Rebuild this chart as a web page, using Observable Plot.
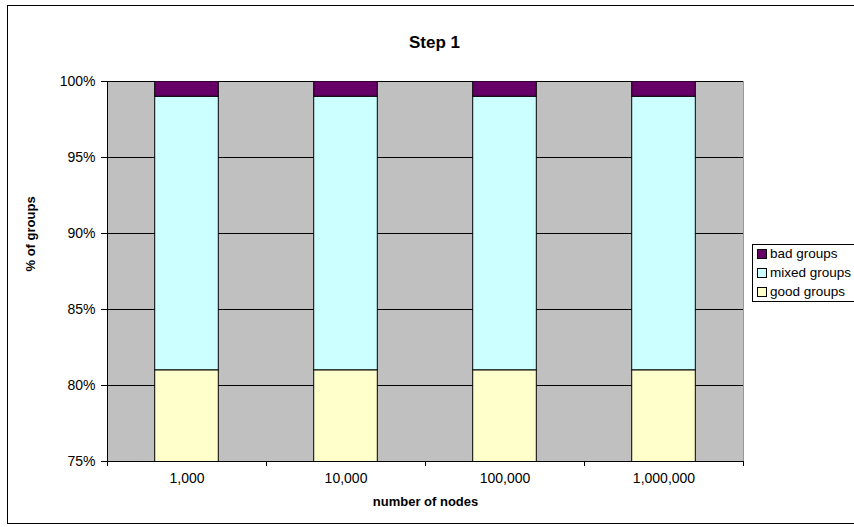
<!DOCTYPE html>
<html>
<head>
<meta charset="utf-8">
<script src="https://cdn.jsdelivr.net/npm/d3@7"></script>
<script src="https://cdn.jsdelivr.net/npm/@observablehq/plot@0.6"></script>
<style>
  body { margin: 0; background: #fff; font-family: "Liberation Sans", Arial, sans-serif; }
  #wrap { position: relative; width: 854px; height: 527px; overflow: hidden; }
  #wrap svg { position: absolute; left: 0; top: 0; }
  #border { position: absolute; left: 7px; top: 5px; width: 900px; height: 519px; border: 1px solid #000; box-sizing: border-box; }
  #legend { position: absolute; left: 752px; top: 244px; width: 120px; height: 58px; border: 1px solid #000; background: #fff; box-sizing: border-box; font-size: 13.5px; }
  .row { position: absolute; left: 4px; height: 16px; line-height: 16px; white-space: nowrap; }
  .sw { display: inline-block; width: 8px; height: 8px; border: 1px solid #000; vertical-align: -1px; margin-right: 3px; }
</style>
</head>
<body>
<div id="wrap"><div id="border"></div></div>
<script>
const title = "Step 1";
const nodes = ["1,000", "10,000", "100,000", "1,000,000"];
const seriesNames = ["good groups", "mixed groups", "bad groups"];
const seriesColors = ["#FFFFCC", "#CCFFFF", "#660066"];
const good = [0.81, 0.81, 0.81, 0.81];
const mixed = [0.18, 0.18, 0.18, 0.18];
const bad = [0.01, 0.01, 0.01, 0.01];
const yTicks = [0.75, 0.80, 0.85, 0.90, 0.95, 1.00];
const xLabel = "number of nodes";
const yLabel = "% of groups";

const seriesValues = [good, mixed, bad];
const rows = [];
nodes.forEach((n, i) => {
  let acc = 0;
  seriesValues.forEach((vals, s) => {
    rows.push({i, node: n, series: seriesNames[s], y1: acc, y2: acc + vals[i]});
    acc += vals[i];
  });
});

const pct = d3.format(".0%");

const chart = Plot.plot({
  width: 854,
  height: 527,
  marginLeft: 107,
  marginRight: 111,
  marginTop: 81,
  marginBottom: 66,
  style: { fontFamily: '"Liberation Sans", Arial, sans-serif', fontSize: "14px", color: "#000", background: "transparent", overflow: "visible" },
  x: { type: "linear", domain: [0, nodes.length], axis: null },
  y: { domain: [0.75, 1], axis: null },
  color: { domain: seriesNames, range: seriesColors },
  marks: [
    Plot.frame({ fill: "#C0C0C0", stroke: "#999999" }),
    Plot.gridY(yTicks, { stroke: "#000", strokeOpacity: 1 }),
    Plot.rectY(rows, {
      x1: d => d.i + 0.3, x2: d => d.i + 0.7,
      y1: "y1", y2: "y2",
      fill: "series", stroke: "#000", strokeWidth: 1, clip: true
    }),
    Plot.axisY({ ticks: yTicks, tickSize: 6, tickFormat: () => "", label: null }),
    Plot.text(yTicks, { y: d => d, text: d => pct(d), frameAnchor: "left", dx: -12, textAnchor: "end", fontSize: 14 }),
    Plot.axisX({ ticks: d3.range(nodes.length + 1), tickSize: 5, tickFormat: () => "", label: null }),
    Plot.ruleX([0], { stroke: "#000" }),
    Plot.ruleY([0.75], { stroke: "#000" }),
    Plot.text(nodes, { x: (d, i) => i + 0.5, text: d => d, frameAnchor: "bottom", dy: 21, fontSize: 14 }),
    Plot.text([xLabel], { frameAnchor: "bottom", dy: 44, fontWeight: "bold", fontSize: 13 }),
    Plot.text([yLabel], { frameAnchor: "left", dx: -77, rotate: -90, fontWeight: "bold", fontSize: 13 }),
    Plot.text([title], { frameAnchor: "top", dx: 9, dy: -46, fontWeight: "bold", fontSize: 17 })
  ]
});

const wrap = document.getElementById("wrap");
wrap.appendChild(chart);

const legend = document.createElement("div");
legend.id = "legend";
const order = [2, 1, 0];
order.forEach((s, k) => {
  const row = document.createElement("div");
  row.className = "row";
  row.style.top = (1 + k * 19) + "px";
  const sw = document.createElement("span");
  sw.className = "sw";
  sw.style.background = seriesColors[s];
  row.appendChild(sw);
  row.appendChild(document.createTextNode(seriesNames[s]));
  legend.appendChild(row);
});
wrap.appendChild(legend);
</script>
</body>
</html>
